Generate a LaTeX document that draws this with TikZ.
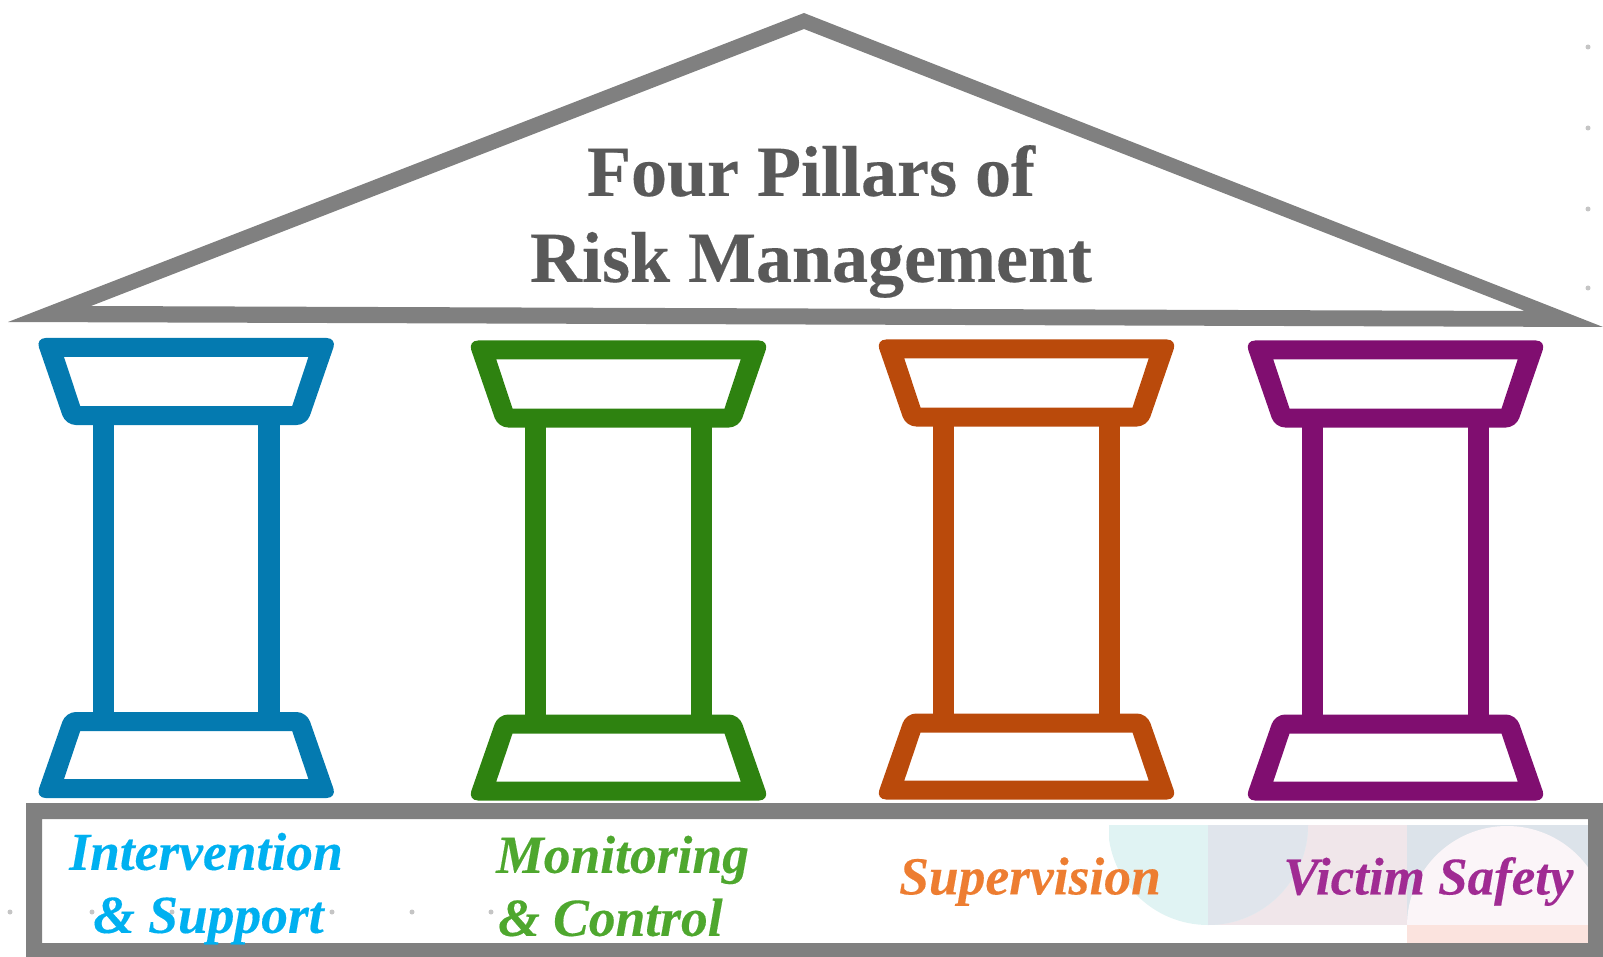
\documentclass[tikz,border=0pt]{standalone}
\usepackage{fontspec}
\setmainfont[BoldFeatures={FakeBold=0.25},BoldItalicFeatures={FakeBold=0.25}]{Liberation Serif}
\definecolor{framegray}{HTML}{808080}
\definecolor{titlegray}{HTML}{595959}
\definecolor{pblue}{HTML}{047AB0}
\definecolor{pgreen}{HTML}{2E8210}
\definecolor{porange}{HTML}{BA4A0B}
\definecolor{ppurple}{HTML}{800E70}
\definecolor{tblue}{HTML}{00B0F0}
\definecolor{tgreen}{HTML}{4EA72E}
\definecolor{torange}{HTML}{ED7D31}
\definecolor{tpurple}{HTML}{A02B93}
\definecolor{artpink}{RGB}{240,230,234}
\definecolor{artteal}{RGB}{224,243,243}
\definecolor{artblue}{RGB}{224,229,236}
\definecolor{artslate}{RGB}{220,227,234}
\definecolor{artlight}{RGB}{251,245,248}
\definecolor{artsalmon}{RGB}{251,227,222}
\tikzset{
  x=1pt,y=-1pt,
  columnline/.style={line width=21.3pt},
  speck/.style={fill=black!45,draw=none,opacity=.5,circle,minimum size=5pt,inner sep=0pt},
  labeltext/.style={font=\fontsize{53.5}{63}\selectfont\bfseries\itshape,inner sep=0pt},
  titletext/.style={font=\fontsize{72}{86}\selectfont\bfseries,align=center,inner sep=0pt,text=titlegray},
  pics/pillar/.style={code={
    \draw[columnline,#1] (-82.7,85) -- (-82.7,376);
    \draw[columnline,#1] (82.7,85) -- (82.7,376);
    \fill[#1,even odd rule]
      [rounded corners=10pt] (0,0) -- (150.5,0) -- (120.5,87) -- (-120.5,87) -- (-150.5,0) -- cycle
      [sharp corners] (-122.2,19) -- (122.2,19) -- (106,68) -- (-106,68) -- cycle;
    \fill[#1,even odd rule]
      [rounded corners=10pt] (0,374) -- (120.5,374) -- (150.5,460) -- (-150.5,460) -- (-120.5,374) -- cycle
      [sharp corners] (-106,393) -- (106,393) -- (122.2,441) -- (-122.2,441) -- cycle;
  }}
}
\begin{document}
\begin{tikzpicture}
\useasboundingbox (0,0) rectangle (1603,957);
% base background artwork
\begin{scope}
\clip (1109,825) rectangle (1407,925);
\fill[artpink] (1208,825) rectangle (1407,925);
\fill[artteal] (1208,825) circle (100);
\clip (1208,825) rectangle (1407,925);
\fill[artblue] (1208,825) circle (100);
\end{scope}
\fill[artslate] (1407,825) rectangle (1588,925);
\begin{scope}
\clip (1407,825) rectangle (1588,925);
\fill[artlight] (1507,926) circle (100);
\end{scope}
\fill[artsalmon] (1407,925) rectangle (1588,943);
% specks
\foreach \px/\py in {10/912,92/912,172/912,252/912,332/912,412/912,491/912,1588/47,1588/128,1588/209,1588/288}
  \node[speck] at (\px,\py) {};
% base frame
\fill[framegray,even odd rule] (26,803) rectangle (1603,957) (42,819) rectangle (1588,943);
% roof
\fill[framegray,even odd rule] (804,13) -- (1603,327) -- (8,322) -- cycle (804,29) -- (1525,311) -- (91,306) -- cycle;
% pillars
\pic at (186.2,338) {pillar=pblue};
\pic at (618.5,340.5) {pillar=pgreen};
\pic at (1026.5,339.5) {pillar=porange};
\pic at (1395.5,340.5) {pillar=ppurple};
% texts
\node[titletext] (title) at (811,221.5) {Four Pillars of\\Risk Management};
\node[labeltext,text=tblue,align=center] (lab1) at (206,888.5) {Intervention\\\hspace*{5pt}\& Support};
\node[labeltext,text=tgreen,align=left,anchor=west] (lab2) at (496,886) {Monitoring\\\hspace*{2pt}\& Control};
\node[labeltext,text=torange] (lab3) at (1030,881.5) {Supervision};
\node[labeltext,text=tpurple,font=\fontsize{53}{63}\selectfont\bfseries\itshape] (lab4) at (1428.5,881.5) {Victim Safety};
\end{tikzpicture}
\end{document}
